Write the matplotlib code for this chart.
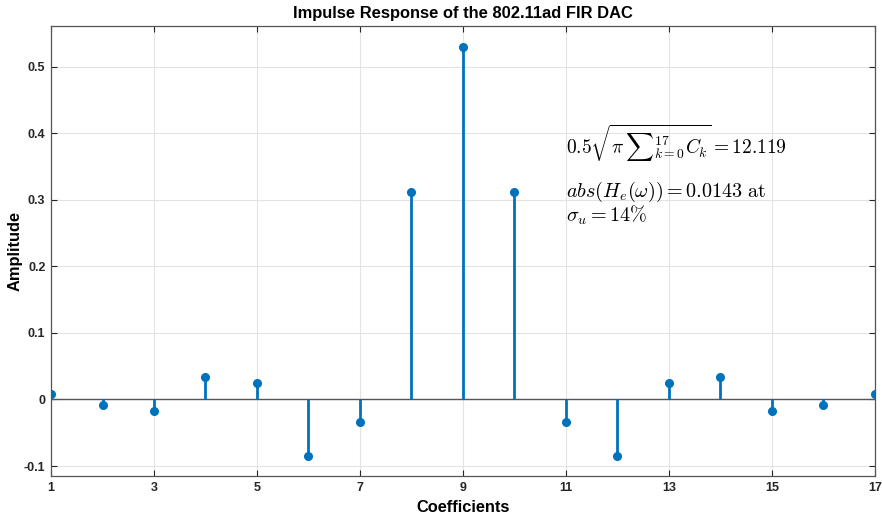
import matplotlib
matplotlib.use("Agg")
import matplotlib.pyplot as plt

coefficients = list(range(1, 18))
amplitudes = [0.008, -0.008, -0.017, 0.033, 0.025, -0.085, -0.034, 0.311, 0.530,
              0.311, -0.034, -0.085, 0.025, 0.033, -0.017, -0.008, 0.008]
xtick_values = [1, 3, 5, 7, 9, 11, 13, 15, 17]
ytick_values = [-0.1, 0, 0.1, 0.2, 0.3, 0.4, 0.5]
ytick_labels = ["-0.1", "0", "0.1", "0.2", "0.3", "0.4", "0.5"]

plt.rcParams["font.family"] = ["Liberation Sans", "DejaVu Sans"]
plt.rcParams["mathtext.fontset"] = "cm"

stem_color = "#0072BD"
axis_color = "#262626"

fig = plt.figure(figsize=(8.82, 5.17), dpi=100)
ax = fig.add_axes([51 / 882, 1 - 476 / 517, 824 / 882, 450 / 517])

markerline, stemlines, baseline = ax.stem(coefficients, amplitudes)
plt.setp(stemlines, color=stem_color, linewidth=2)
plt.setp(markerline, color=stem_color, markersize=5.5, markerfacecolor=stem_color)
baseline.set_visible(False)
ax.axhline(0, color="#555555", linewidth=1, zorder=1)

ax.set_xlim(1, 17)
ax.set_ylim(-0.115, 0.561)
ax.set_xticks(xtick_values)
ax.set_yticks(ytick_values)
ax.set_yticklabels(ytick_labels)
ax.grid(True, color="#e3e3e3", linewidth=0.8)
ax.set_axisbelow(True)

ax.tick_params(direction="in", top=True, right=True, length=4, width=0.8,
               colors=axis_color, labelsize=9, pad=4)
for label in ax.get_xticklabels() + ax.get_yticklabels():
    label.set_fontweight("bold")
for spine in ax.spines.values():
    spine.set_color("#555555")
    spine.set_linewidth(0.9)

ax.set_title("Impulse Response of the 802.11ad FIR DAC", fontsize=11.9,
             fontweight="bold", pad=6)
ax.set_xlabel("Coefficients", fontsize=11.8, fontweight="bold", labelpad=5)
ax.set_ylabel("Amplitude", fontsize=11.8, fontweight="bold")
ax.yaxis.set_label_coords(-28 / 824, 0.5)

ax.text(11.0, 0.384, r"$0.5\sqrt{\pi\,{\sum}_{k=0}^{17} C_k} = 12.119$",
        fontsize=14, va="center", ha="left")
ax.text(11.0, 0.311, r"$abs(H_e(\omega)) = 0.0143\ \mathrm{at}$",
        fontsize=14.5, va="center", ha="left")
ax.text(11.0, 0.277, r"$\sigma_u = 14\%$",
        fontsize=14.5, va="center", ha="left")

fig.savefig("out.png", dpi=100)
